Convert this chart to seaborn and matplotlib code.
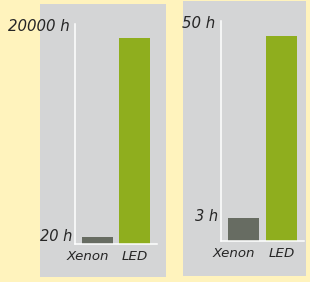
import numpy as np
import matplotlib
matplotlib.use("Agg")
import matplotlib.pyplot as plt
import matplotlib.transforms as mtransforms
import seaborn as sns
from matplotlib.patches import Rectangle

# data
lamps = ["Xenon", "LED"]
life_hours = [20, 20000]      # left panel: lamp life
warmup_hours = [3, 50]        # right panel
life_labels = ["20 h", "20000 h"]
warmup_labels = ["3 h", "50 h"]

bar_colors = {"Xenon": "#676c62", "LED": "#8fae1e"}
bg_yellow = "#fff3bd"
panel_grey = "#d4d5d6"
txt = "#262626"

W, H = 310, 282
sns.set_style("white")
plt.rcParams["font.family"] = ["DejaVu Sans"]
fig = plt.figure(figsize=(W / 100, H / 100), dpi=100, facecolor=bg_yellow)


def px(x0, y0, x1, y1):
    # pixel box (top-left origin) -> figure fraction [l, b, w, h]
    return [x0 / W, 1 - y1 / H, (x1 - x0) / W, (y1 - y0) / H]


# grey panels behind the two charts
for box in [(40, 4, 166, 277), (183, 1, 306, 276)]:
    l, b, w, h = px(*box)
    fig.patches.append(Rectangle((l, b), w, h, transform=fig.transFigure,
                                 facecolor=panel_grey, edgecolor="none", zorder=-10))


def panel(rect, values, labels, gamma, top_frac, width):
    ax = fig.add_axes(px(*rect))
    ax.set_facecolor("none")
    sns.barplot(x=lamps, y=values, hue=lamps, palette=bar_colors, width=width,
                legend=False, ax=ax, saturation=1, linewidth=0)
    ax.set_yscale("function", functions=(lambda v: np.sign(v) * np.abs(v) ** gamma,
                                         lambda v: np.sign(v) * np.abs(v) ** (1 / gamma)))
    top = max(values) * top_frac ** (1 / gamma)
    ax.set_ylim(0, top)
    ax.set_xlim(-0.6, 1.6)
    for s in ["top", "right"]:
        ax.spines[s].set_visible(False)
    for s in ["left", "bottom"]:
        ax.spines[s].set_color("white")
        ax.spines[s].set_linewidth(1.1)
    ax.set_yticks([max(values)])
    ax.set_yticklabels([""])
    ax.tick_params(axis="y", length=6, width=1, color="white", direction="out")
    ax.tick_params(axis="x", length=0, pad=4, labelsize=9.6, labelcolor=txt)
    xl = ax.get_xticklabels()
    for t in xl:
        t.set_style("italic")
    # the Xenon label sits a bit left of its bar
    shift = mtransforms.ScaledTranslation(-10 / 100, 0, fig.dpi_scale_trans)
    xl[0].set_transform(xl[0].get_transform() + shift)
    ax.set_xlabel("")
    ax.set_ylabel("")
    # small value at the bar top, large value at the axis top
    ax.annotate(labels[0], xy=(0, values[0]), xycoords=("axes fraction", "data"),
                xytext=(-2, 1), textcoords="offset points", ha="right", va="center",
                fontsize=10.5, style="italic", color=txt, annotation_clip=False)
    ax.annotate(labels[1], xy=(0, 1), xycoords="axes fraction",
                xytext=(-4, -2), textcoords="offset points", ha="right", va="center",
                fontsize=10.8, style="italic", color=txt, annotation_clip=False)
    return ax


panel((75, 24, 157, 244), life_hours, life_labels, 0.5, 220 / 206, 0.84)
panel((221, 21, 304, 241), warmup_hours, warmup_labels, 0.78, 220 / 205, 0.82)

fig.savefig("out.png", dpi=100, facecolor=bg_yellow)
